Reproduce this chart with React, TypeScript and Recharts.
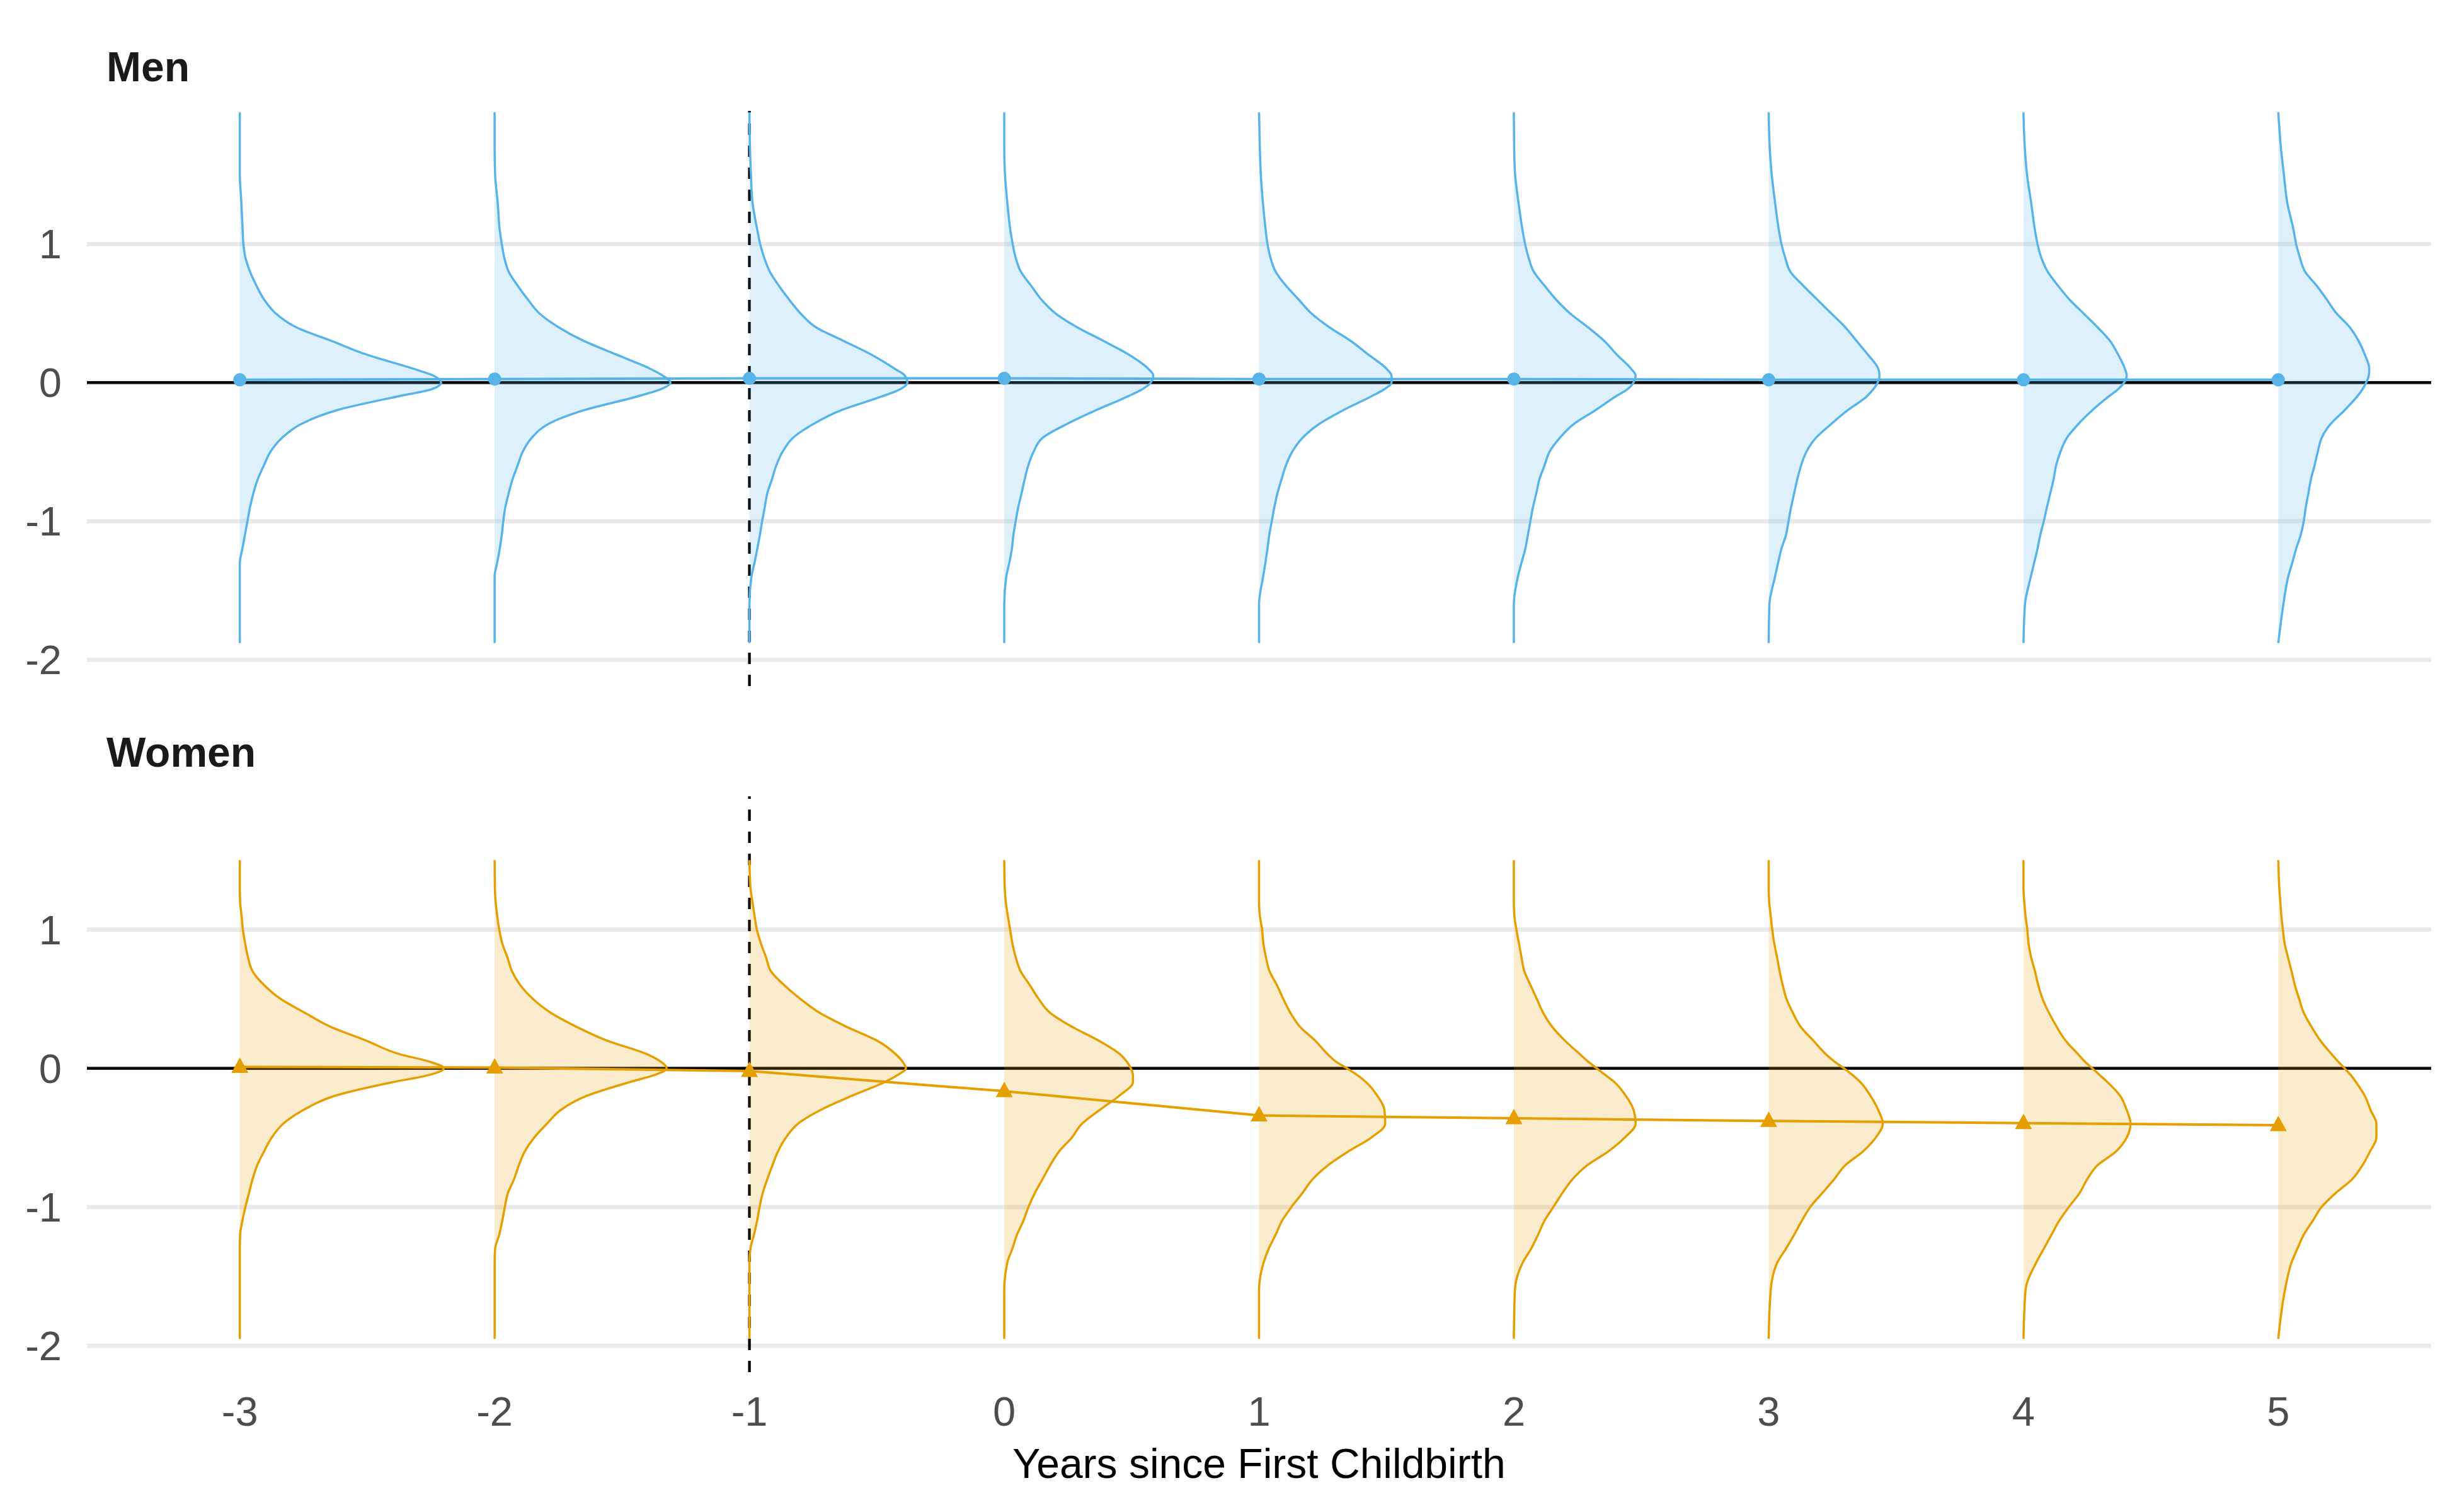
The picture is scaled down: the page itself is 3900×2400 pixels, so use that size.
import React from 'react';
import {
  ScatterChart,
  Scatter,
  XAxis,
  YAxis,
  CartesianGrid,
  ReferenceLine,
  Curve,
} from 'recharts';

const FONT = '"Liberation Sans", Arial, Helvetica, sans-serif';

const years = [-3, -2, -1, 0, 1, 2, 3, 4, 5];
const yTicks = [-2, -1, 0, 1];

const menLevels = [-1.88, -1.6, -1.4, -1.3, -1.2, -1.1, -1.0, -0.9, -0.8, -0.7, -0.6, -0.5, -0.4, -0.3, -0.2, -0.1, -0.05, 0, 0.05, 0.1, 0.2, 0.3, 0.4, 0.5, 0.6, 0.7, 0.8, 0.9, 1.0, 1.1, 1.3, 1.5, 1.7, 1.95];
const womenLevels = [-1.95, -1.6, -1.4, -1.3, -1.2, -1.1, -1.0, -0.9, -0.8, -0.7, -0.6, -0.5, -0.4, -0.3, -0.2, -0.1, -0.05, 0, 0.05, 0.1, 0.2, 0.3, 0.4, 0.5, 0.6, 0.7, 0.8, 0.9, 1.0, 1.1, 1.2, 1.3, 1.5];

// men: half-violin widths (x units) per year
const menM3 = [0, 0, 0, 0, 0.01, 0.02, 0.03, 0.04, 0.053, 0.07, 0.094, 0.12, 0.165, 0.24, 0.38, 0.62, 0.75, 0.79, 0.76, 0.68, 0.5, 0.36, 0.22, 0.14, 0.095, 0.065, 0.04, 0.022, 0.014, 0.011, 0.006, 0, 0, 0];
const menM2 = [0, 0, 0, 0.01, 0.02, 0.028, 0.034, 0.042, 0.055, 0.07, 0.09, 0.11, 0.145, 0.21, 0.35, 0.56, 0.65, 0.69, 0.66, 0.61, 0.48, 0.35, 0.25, 0.175, 0.13, 0.09, 0.055, 0.038, 0.028, 0.02, 0.012, 0.002, 0, 0];
const menM1 = [0, 0, 0.008, 0.02, 0.031, 0.041, 0.05, 0.06, 0.07, 0.088, 0.105, 0.13, 0.17, 0.25, 0.36, 0.52, 0.59, 0.62, 0.61, 0.57, 0.48, 0.37, 0.26, 0.2, 0.155, 0.115, 0.08, 0.058, 0.042, 0.031, 0.012, 0.006, 0.002, 0];
const menP0 = [0, 0, 0.008, 0.02, 0.03, 0.036, 0.045, 0.055, 0.068, 0.08, 0.094, 0.115, 0.15, 0.245, 0.36, 0.485, 0.54, 0.575, 0.585, 0.565, 0.49, 0.39, 0.285, 0.2, 0.145, 0.105, 0.065, 0.045, 0.033, 0.024, 0.012, 0.003, 0, 0];
const menP1 = [0, 0, 0.016, 0.025, 0.033, 0.04, 0.05, 0.06, 0.072, 0.088, 0.105, 0.13, 0.17, 0.235, 0.33, 0.44, 0.49, 0.52, 0.52, 0.5, 0.43, 0.36, 0.275, 0.205, 0.155, 0.105, 0.065, 0.045, 0.033, 0.026, 0.015, 0.007, 0.003, 0];
const menP2 = [0, 0, 0.016, 0.03, 0.045, 0.055, 0.065, 0.075, 0.088, 0.1, 0.12, 0.14, 0.18, 0.235, 0.32, 0.4, 0.445, 0.47, 0.478, 0.46, 0.405, 0.355, 0.29, 0.22, 0.165, 0.12, 0.078, 0.058, 0.044, 0.034, 0.018, 0.005, 0.001, 0];
const menP3 = [0, 0.003, 0.025, 0.037, 0.05, 0.068, 0.078, 0.088, 0.1, 0.112, 0.127, 0.148, 0.185, 0.245, 0.31, 0.385, 0.41, 0.428, 0.435, 0.43, 0.39, 0.345, 0.3, 0.245, 0.19, 0.135, 0.085, 0.065, 0.05, 0.04, 0.025, 0.012, 0.004, 0];
const menP4 = [0, 0.006, 0.029, 0.042, 0.055, 0.066, 0.08, 0.092, 0.105, 0.118, 0.128, 0.145, 0.17, 0.215, 0.27, 0.335, 0.37, 0.395, 0.405, 0.398, 0.372, 0.34, 0.29, 0.235, 0.18, 0.135, 0.095, 0.07, 0.055, 0.045, 0.03, 0.014, 0.005, 0];
const menP5 = [0, 0.02, 0.039, 0.055, 0.07, 0.088, 0.1, 0.108, 0.118, 0.128, 0.142, 0.155, 0.17, 0.205, 0.26, 0.31, 0.33, 0.345, 0.355, 0.357, 0.34, 0.315, 0.28, 0.228, 0.19, 0.15, 0.105, 0.085, 0.07, 0.06, 0.035, 0.022, 0.01, 0];

// women: half-violin widths (x units) per year
const womenM3 = [0, 0, 0, 0, 0.001, 0.01, 0.022, 0.036, 0.05, 0.068, 0.095, 0.125, 0.17, 0.25, 0.37, 0.6, 0.74, 0.8, 0.74, 0.63, 0.495, 0.355, 0.255, 0.16, 0.095, 0.05, 0.032, 0.021, 0.012, 0.007, 0.001, 0, 0];
const womenM2 = [0, 0, 0, 0.002, 0.018, 0.03, 0.04, 0.052, 0.076, 0.095, 0.118, 0.155, 0.205, 0.26, 0.36, 0.53, 0.625, 0.675, 0.65, 0.6, 0.44, 0.32, 0.22, 0.15, 0.1, 0.068, 0.05, 0.03, 0.018, 0.01, 0.004, 0.001, 0];
const womenM1 = [0, 0, 0, 0.004, 0.018, 0.03, 0.04, 0.052, 0.07, 0.09, 0.112, 0.143, 0.19, 0.28, 0.4, 0.53, 0.58, 0.614, 0.6, 0.575, 0.5, 0.38, 0.275, 0.2, 0.136, 0.084, 0.065, 0.045, 0.029, 0.02, 0.012, 0.004, 0];
const womenP0 = [0, 0, 0.012, 0.032, 0.05, 0.075, 0.095, 0.12, 0.15, 0.18, 0.215, 0.265, 0.305, 0.375, 0.45, 0.505, 0.505, 0.497, 0.48, 0.455, 0.37, 0.265, 0.18, 0.135, 0.1, 0.064, 0.045, 0.032, 0.023, 0.014, 0.006, 0.002, 0];
const womenP1 = [0, 0, 0.018, 0.038, 0.065, 0.09, 0.127, 0.17, 0.21, 0.27, 0.35, 0.44, 0.495, 0.492, 0.465, 0.42, 0.386, 0.345, 0.3, 0.27, 0.22, 0.16, 0.123, 0.095, 0.07, 0.041, 0.027, 0.017, 0.012, 0.003, 0, 0, 0];
const womenP2 = [0, 0.004, 0.035, 0.068, 0.095, 0.12, 0.155, 0.19, 0.23, 0.287, 0.37, 0.435, 0.478, 0.47, 0.44, 0.395, 0.36, 0.325, 0.29, 0.26, 0.2, 0.15, 0.115, 0.09, 0.065, 0.041, 0.03, 0.02, 0.01, 0.002, 0, 0, 0];
const womenP3 = [0, 0.008, 0.034, 0.068, 0.1, 0.13, 0.163, 0.21, 0.257, 0.3, 0.37, 0.42, 0.448, 0.43, 0.4, 0.36, 0.33, 0.295, 0.257, 0.225, 0.175, 0.125, 0.095, 0.07, 0.055, 0.043, 0.033, 0.022, 0.014, 0.008, 0.002, 0, 0];
const womenP4 = [0, 0.008, 0.05, 0.08, 0.11, 0.14, 0.178, 0.22, 0.25, 0.29, 0.363, 0.405, 0.42, 0.405, 0.38, 0.33, 0.3, 0.27, 0.24, 0.215, 0.165, 0.13, 0.1, 0.075, 0.058, 0.045, 0.03, 0.02, 0.015, 0.008, 0.003, 0, 0];
const womenP5 = [0, 0.026, 0.052, 0.075, 0.1, 0.135, 0.17, 0.225, 0.29, 0.33, 0.36, 0.385, 0.385, 0.362, 0.34, 0.305, 0.285, 0.26, 0.234, 0.21, 0.165, 0.13, 0.1, 0.082, 0.065, 0.052, 0.038, 0.025, 0.018, 0.012, 0.008, 0.004, 0];

// group means (points joined by the line)
const menMeans = [0.02, 0.025, 0.03, 0.03, 0.025, 0.025, 0.02, 0.02, 0.02];
const womenMeans = [0.01, 0.005, -0.02, -0.165, -0.34, -0.36, -0.38, -0.395, -0.41];

const menDensities = [menM3, menM2, menM1, menP0, menP1, menP2, menP3, menP4, menP5];
const womenDensities = [womenM3, womenM2, womenM1, womenP0, womenP1, womenP2, womenP3, womenP4, womenP5];

const BLUE = '#56B4E9';
const ORANGE = '#E69F00';

// draws the half violin from the pixel points the scatter hands to its line
const violinLine = (color: string) => (props: any) => {
  const pts = (props.points || []) as { x: number; y: number }[];
  if (pts.length < 2) return <g />;
  const base = pts[0].x;
  return (
    <g>
      <Curve type="monotoneY" layout="vertical" points={pts} baseLine={base} fill={color} fillOpacity={0.2} stroke="none" />
      <Curve type="monotoneY" points={pts} fill="none" stroke={color} strokeWidth={3.5} strokeLinejoin="round" />
    </g>
  );
};

const noPoint = () => <g />;

type PanelProps = {
  levels: number[];
  densities: number[][];
  means: number[];
  color: string;
  marker: 'circle' | 'triangle';
  height: number;
  marginTop: number;
  marginBottom: number;
  showX: boolean;
};

const Panel = ({ levels, densities, means, color, marker, height, marginTop, marginBottom, showX }: PanelProps) => {
  const violins = years.map((yr, j) => levels.map((y, i) => ({ x: yr + densities[j][i], y })));
  const meanData = years.map((yr, j) => ({ x: yr, y: means[j] }));

  const meanShape = (p: any) =>
    marker === 'circle' ? (
      <circle cx={p.cx} cy={p.cy} r={10.5} fill={color} />
    ) : (
      <polygon
        points={`${p.cx},${p.cy - 15} ${p.cx - 13.5},${p.cy + 9.5} ${p.cx + 13.5},${p.cy + 9.5}`}
        fill={color}
      />
    );

  return (
    <ScatterChart width={3900} height={height} margin={{ top: marginTop, right: 41, bottom: marginBottom, left: 0 }}>
      {/* syncWithTicks keeps the grid off the panel edges */}
      <CartesianGrid vertical={false} stroke="#EBEBEB" strokeWidth={7} syncWithTicks />
      <XAxis
        type="number"
        dataKey="x"
        domain={[-3.6, 5.6]}
        allowDataOverflow
        ticks={years}
        interval={0}
        hide={!showX}
        height={showX ? 200 : 0}
        axisLine={false}
        tickLine={false}
        tickSize={0}
        tickMargin={39}
        tick={{ fill: '#4D4D4D', fontSize: 65, fontFamily: FONT }}
        label={
          showX
            ? { value: 'Years since First Childbirth', position: 'insideBottom', offset: 32, fill: '#000000', fontSize: 66, fontFamily: FONT }
            : undefined
        }
      />
      <YAxis
        type="number"
        dataKey="y"
        domain={[-2.19, 1.96]}
        allowDataOverflow
        ticks={yTicks}
        interval={0}
        width={138}
        axisLine={false}
        tickLine={false}
        tickSize={0}
        tickMargin={40}
        tick={{ fill: '#4D4D4D', fontSize: 65, fontFamily: FONT }}
      />
      {violins.map((pts, j) => (
        <Scatter
          key={`v${j}`}
          data={pts}
          fill={color}
          line={violinLine(color)}
          lineType="joint"
          shape={noPoint}
          isAnimationActive={false}
        />
      ))}
      <ReferenceLine y={0} stroke="#000000" strokeWidth={4.5} />
      <ReferenceLine x={-1} stroke="#000000" strokeWidth={4.3} strokeDasharray="18 17" />
      <Scatter
        data={meanData}
        fill={color}
        line={{ stroke: color, strokeWidth: 4 }}
        lineType="joint"
        shape={meanShape}
        isAnimationActive={false}
      />
    </ScatterChart>
  );
};

const titleStyle: React.CSSProperties = {
  position: 'absolute',
  left: 169,
  fontFamily: FONT,
  fontWeight: 700,
  fontSize: 66,
  lineHeight: 1,
  color: '#1A1A1A',
  margin: 0,
};

export default function App() {
  return (
    <div style={{ position: 'absolute', left: 0, top: 0, width: 3900, height: 2400, background: '#FFFFFF', fontFamily: FONT }}>
      <div style={{ position: 'absolute', left: 0, top: 0 }}>
        <Panel
          levels={menLevels}
          densities={menDensities}
          means={menMeans}
          color={BLUE}
          marker="circle"
          height={1100}
          marginTop={176}
          marginBottom={11}
          showX={false}
        />
      </div>
      <div style={{ position: 'absolute', left: 0, top: 1100 }}>
        <Panel
          levels={womenLevels}
          densities={womenDensities}
          means={womenMeans}
          color={ORANGE}
          marker="triangle"
          height={1278}
          marginTop={164}
          marginBottom={0}
          showX
        />
      </div>
      <div style={{ ...titleStyle, top: 73 }}>Men</div>
      <div style={{ ...titleStyle, top: 1161 }}>Women</div>
    </div>
  );
}
